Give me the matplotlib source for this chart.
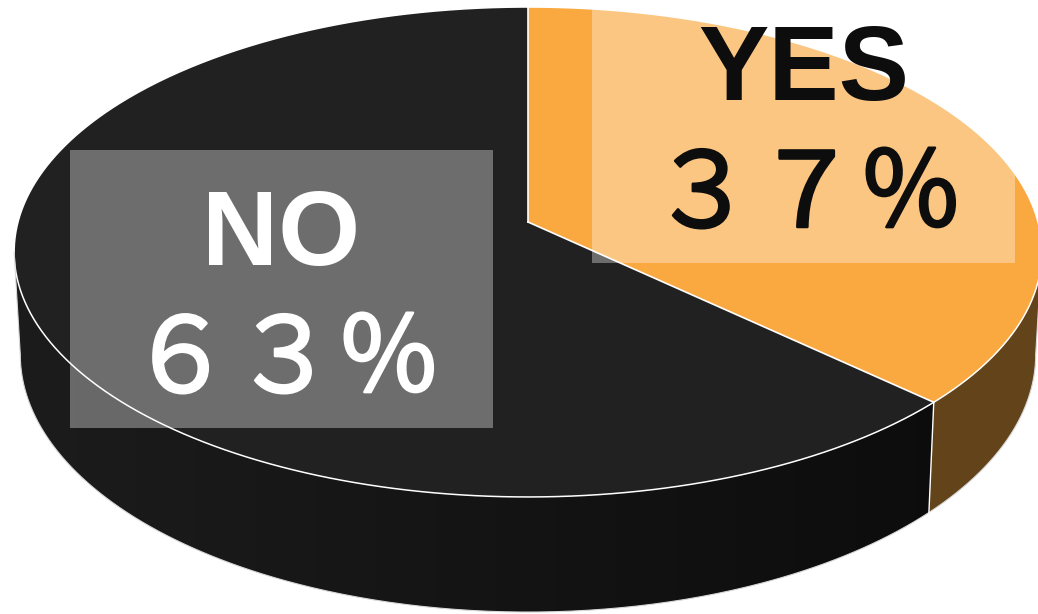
import numpy as np
import matplotlib.pyplot as plt
import matplotlib.patheffects as pe
from matplotlib.patches import Polygon, Rectangle

# data
labels = ["YES", "NO"]
shares = [37, 63]
top_colors = ["#f9a93f", "#212121"]
side_colors = [("#6a471b", "#63431a"), ("#1c1c1c", "#0b0b0b")]
text_colors = ["#0d0d0d", "#ffffff"]

# perspective pie geometry (pixels)
CX, CY = 528, 222
A, B, P = 510, 241.3, 0.1224
H = 101


def project(theta, depth=0.0):
    s = 1.0 / (1.0 + P * np.cos(theta))
    x = CX + A * np.sin(theta) * s * (1 - 0.012 * depth)
    y = CY - B * np.cos(theta) * s + H * s * depth
    return x, y


def fullwidth(s):
    return "".join(chr(ord(c) + 0xFEE0) if 0x21 <= ord(c) <= 0x7E else c for c in s)


fig = plt.figure(figsize=(10.38, 6.14), dpi=100)
ax = fig.add_axes([0, 0, 1, 1])
ax.set_xlim(0, 1038)
ax.set_ylim(614, 0)
ax.axis("off")

fracs = np.array(shares, dtype=float) / sum(shares)
bounds = np.concatenate([[0], np.cumsum(fracs)]) * 2 * np.pi
vis0 = np.arccos(-P)
vis1 = 2 * np.pi - vis0

# side walls (front, visible part only) with a left-to-right shade
for i in range(len(shares)):
    a, b = max(bounds[i], vis0), min(bounds[i + 1], vis1)
    if a >= b:
        continue
    th = np.linspace(a, b, 300)
    xt, yt = project(th)
    xb, yb = project(th[::-1], 1)
    pts = np.column_stack([np.r_[xt, xb], np.r_[yt, yb]])
    poly = Polygon(pts, closed=True, facecolor="none", edgecolor="none")
    ax.add_patch(poly)
    c0 = np.array(plt.matplotlib.colors.to_rgb(side_colors[i][0]))
    c1 = np.array(plt.matplotlib.colors.to_rgb(side_colors[i][1]))
    t = np.linspace(0, 1, 256)
    grad = (c0[None, :] + (c1 - c0)[None, :] * t[:, None])[None, :, :]
    im = ax.imshow(grad, extent=[14, 1038, 614, 0], aspect="auto",
                   interpolation="bilinear", zorder=1)
    im.set_clip_path(poly)

# top faces
for i in range(len(shares)):
    th = np.linspace(bounds[i], bounds[i + 1], 400)
    x, y = project(th)
    pts = np.column_stack([np.r_[CX, x], np.r_[CY, y]])
    ax.add_patch(Polygon(pts, closed=True, facecolor=top_colors[i],
                         edgecolor="none", zorder=2))

# outlines
th = np.linspace(0, 2 * np.pi, 800)
x, y = project(th)
ax.plot(x, y, color="white", lw=1.1, zorder=3)
th = np.linspace(vis0, vis1, 400)
x, y = project(th, 1)
ax.plot(x, y, color="#d8d8d8", lw=0.8, zorder=3)
for t in [vis0, vis1]:
    x0, y0 = project(t)
    x1, y1 = project(t, 1)
    ax.plot([x0, x1], [y0, y1], color="#d8d8d8", lw=0.8, zorder=3)
for b in bounds[:-1]:
    x0, y0 = project(b)
    ax.plot([CX, x0], [CY, y0], color="white", lw=1.2, zorder=3)
    if np.cos(b) < 0:
        x1, y1 = project(b, 1)
        ax.plot([x0, x1], [y0, y1], color="white", lw=1.0, zorder=3)

# label boxes
boxes = [(592, -15), (70, 150)]
bw, bh = 423, 278
for i in range(len(shares)):
    bx, by = boxes[i]
    ax.add_patch(Rectangle((bx, by), bw, bh, facecolor="white", alpha=0.344,
                           edgecolor="none", zorder=4))
    cx = bx + bw / 2
    ax.text(cx, by + 115, labels[i], ha="center", va="baseline", fontsize=76,
            fontweight="bold", family="Liberation Sans", color=text_colors[i], zorder=5)
    ax.text(cx + 3, by + 242, fullwidth(f"{shares[i]}%"), ha="center", va="baseline",
            fontsize=75, family=["Noto Sans CJK JP", "DejaVu Sans"],
            color=text_colors[i], zorder=5,
            path_effects=[pe.withStroke(linewidth=1.8, foreground=text_colors[i])])

fig.savefig("out.png", dpi=100)
